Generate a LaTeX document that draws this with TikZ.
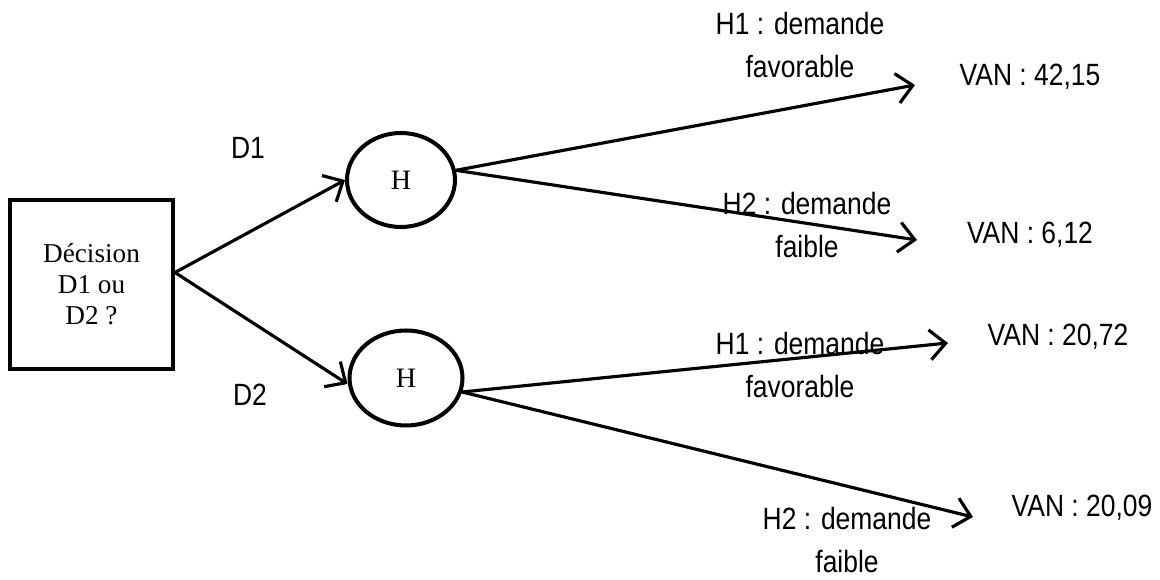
\documentclass[tikz,border=0pt]{standalone}
\usepackage{fontspec}
\setmainfont{Liberation Serif}
\newfontfamily\lblfont{Liberation Sans}[FakeStretch=0.86]
\usetikzlibrary{arrows.meta,shapes.geometric}
\begin{document}
\begin{tikzpicture}[x=0.02cm,y=-0.02cm,
  decbox/.style={draw,line width=2.3pt,minimum width=3.26cm,minimum height=3.38cm,inner sep=0pt,align=center,font=\fontsize{15.5}{17.6}\selectfont},
  chance/.style={draw,ellipse,line width=2.3pt,inner sep=0pt,font=\fontsize{16}{18}\selectfont},
  lbl/.style={font=\lblfont\fontsize{17.5}{25}\selectfont,align=center,inner sep=0pt},
  conn/.style={line width=1.8pt,-{Straight Barb[length=9pt,width=17pt,line width=1.8pt]}}]
\useasboundingbox (0,0) rectangle (1160,580);
\fill[white] (0,0) rectangle (1160,580);
\node[decbox] (box) at (91.5,284.5) {Décision\\D1 ou\\D2 ?};
\node[chance,minimum width=2.16cm,minimum height=1.88cm] (e1) at (401,180) {H};
\node[chance,minimum width=2.26cm,minimum height=1.9cm] (e2) at (406,378) {H};
\node[lbl] (d1) at (248,148) {D1};
\node[lbl] (d2) at (250,395) {D2};
\node[lbl] (h11) at (800,45) {H1 : demande\\favorable};
\node[lbl] (h21) at (807,225) {H2 : demande\\faible};
\node[lbl] (h12) at (800,365) {H1 : demande\\favorable};
\node[lbl] (h22) at (847,540) {H2 : demande\\faible};
\node[lbl] (v1) at (1030,77) {VAN : 42,15};
\node[lbl] (v2) at (1030,235) {VAN : 6,12};
\node[lbl] (v3) at (1058,337) {VAN : 20,72};
\node[lbl] (v4) at (1082,508) {VAN : 20,09};
\coordinate (t1) at (915,85);
\coordinate (t2) at (917,240);
\coordinate (t3) at (948,343);
\coordinate (t4) at (973,517);
\draw[conn] ([yshift=0.24cm]box.east) -- (e1.west);
\draw[conn] ([yshift=0.24cm]box.east) -- ([yshift=-0.12cm]e2.west);
\draw[conn] (e1.10) -- (t1);
\draw[conn] (e1.10) -- (t2);
\draw[conn] (e2.-14) -- (t3);
\draw[conn] (e2.-14) -- (t4);
\end{tikzpicture}
\end{document}
